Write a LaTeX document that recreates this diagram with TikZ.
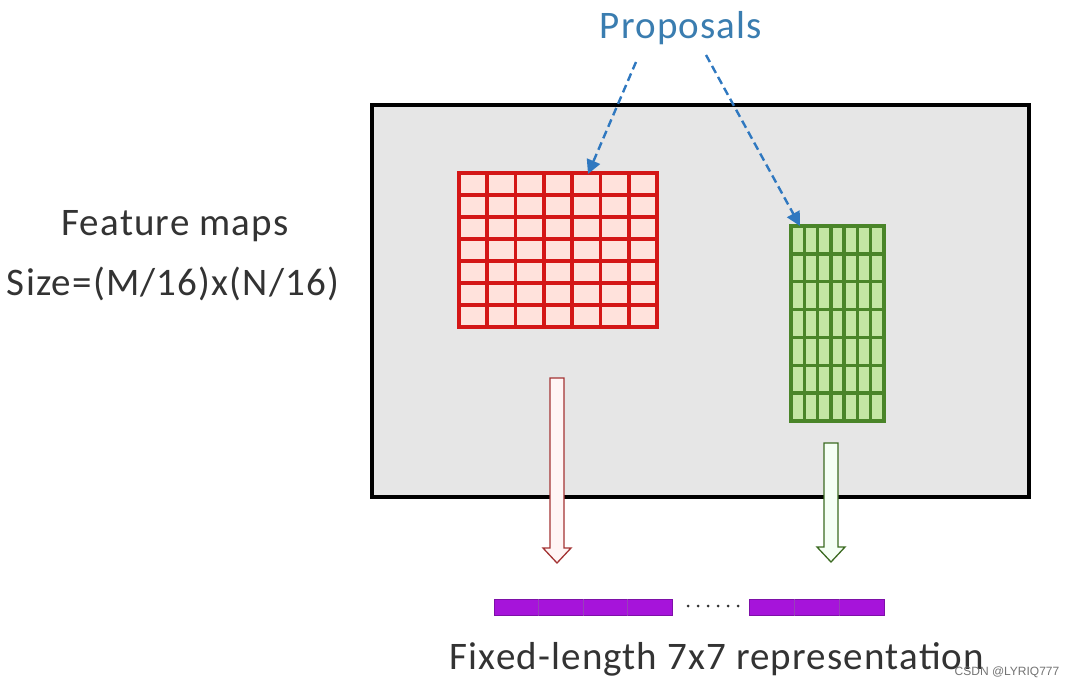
\documentclass[tikz,border=0pt]{standalone}
\usepackage{fontspec}
\setmainfont{Carlito}[LetterSpace=3]
\newfontfamily\wmfont{Liberation Sans}
\usetikzlibrary{arrows.meta,calc}
\definecolor{boxgray}{HTML}{E6E6E6}
\definecolor{redline}{HTML}{D41616}
\definecolor{redfill}{HTML}{FFE2DC}
\definecolor{greenline}{HTML}{4A8529}
\definecolor{greenfill}{HTML}{C4E6A4}
\definecolor{propblue}{HTML}{3A7DB0}
\definecolor{arrowblue}{HTML}{2F78C0}
\definecolor{purplebar}{HTML}{A614DA}
\definecolor{purpleedge}{HTML}{7E10A8}
\definecolor{textgray}{HTML}{333333}
\begin{document}
\begin{tikzpicture}[x=1pt,y=-1pt,
  lbl/.style={inner sep=0pt,font=\fontsize{39}{41}\selectfont,text=textgray},
  gridbox/.style={draw,line width=3.6pt,inner sep=0pt,outer sep=0pt},
  propline/.style={draw=arrowblue,dashed,dash pattern=on 8pt off 4.5pt,line width=2.4pt,
    -{Triangle[length=14pt,width=14pt]}},
  hollowarrow/.style={line width=1.3pt,line join=miter},
  barbox/.style={fill=purplebar,draw=purpleedge,line width=0.8pt}
]
\useasboundingbox (0,0) rectangle (1078,688);
\fill[white] (0,0) rectangle (1078,688);

% feature map box
\node[draw=black,fill=boxgray,line width=3.5pt,minimum width=657pt,minimum height=392pt,
  anchor=north west,inner sep=0pt] (fmap) at (370,103) {};

% red grid
\node[gridbox,draw=redline,fill=redfill,minimum width=198pt,minimum height=154pt,anchor=north west] (rgrid) at (459,173) {};
\foreach \i in {1,...,6}{
  \draw[redline,line width=3.6pt] ($(rgrid.north west)+(\i*198/7,0)$) -- ($(rgrid.south west)+(\i*198/7,0)$);
  \draw[redline,line width=3.6pt] ($(rgrid.north west)+(0,\i*154/7)$) -- ($(rgrid.north east)+(0,\i*154/7)$);
}

% green grid
\node[gridbox,draw=greenline,fill=greenfill,minimum width=93pt,minimum height=195pt,anchor=north west] (ggrid) at (791,226) {};
\foreach \i in {1,...,6}{
  \draw[greenline,line width=3.4pt] ($(ggrid.north west)+(\i*93/7,0)$) -- ($(ggrid.south west)+(\i*93/7,0)$);
  \draw[greenline,line width=3.4pt] ($(ggrid.north west)+(0,\i*195/7)$) -- ($(ggrid.north east)+(0,\i*195/7)$);
}

% labels
\node[lbl,text=propblue] (prop) at (681,28) {Proposals};
\node[lbl,anchor=center] (feat) at (175,226) {Feature maps};
\node[lbl,anchor=center] (size) at (173,284) {Size=(M/16)x(N/16)};
\node[lbl,anchor=center] (fixed) at (717,659) {Fixed-length 7x7 representation};
\node[inner sep=0pt,font=\wmfont\fontsize{12}{13}\selectfont,text=black!55] (wm) at (1007,672) {CSDN @LYRIQ777};

% dashed proposal arrows
\coordinate (p1) at (636,62);
\coordinate (p2) at (706,55);
\coordinate (t1) at (588,174);
\coordinate (t2) at (800,226);
\draw[propline] (p1) -- (t1);
\draw[propline] (p2) -- (t2);

% hollow arrows
\coordinate (ra) at (557,378);
\draw[hollowarrow,draw=red!55!black!80,fill=red!4]
  ($(ra)+(-7,0)$) -- ($(ra)+(7,0)$) -- ($(ra)+(7,170)$) -- ($(ra)+(14,170)$) --
  ($(ra)+(0,185)$) -- ($(ra)+(-14,170)$) -- ($(ra)+(-7,170)$) -- cycle;
\coordinate (ga) at (831,443);
\draw[hollowarrow,draw=greenline!80!black,fill=green!4]
  ($(ga)+(-7,0)$) -- ($(ga)+(7,0)$) -- ($(ga)+(7,104)$) -- ($(ga)+(14,104)$) --
  ($(ga)+(0,119)$) -- ($(ga)+(-14,104)$) -- ($(ga)+(-7,104)$) -- cycle;

% purple bars
\node[barbox,minimum width=178pt,minimum height=16pt,inner sep=0pt,anchor=north west] (bar1) at (494,599) {};
\foreach \i in {1,2,3}{
  \draw[purpleedge!80,line width=0.6pt] ($(bar1.north west)+(\i*178/4,0)$) -- ($(bar1.south west)+(\i*178/4,0)$);
}
\node[barbox,minimum width=135pt,minimum height=16pt,inner sep=0pt,anchor=north west] (bar2) at (749,599) {};
\foreach \i in {1,2}{
  \draw[purpleedge!80,line width=0.6pt] ($(bar2.north west)+(\i*135/3,0)$) -- ($(bar2.south west)+(\i*135/3,0)$);
}
\foreach \i in {0,...,5}{
  \fill[black!80] (688+\i*10,606) circle (1.5pt);
}
\end{tikzpicture}
\end{document}
